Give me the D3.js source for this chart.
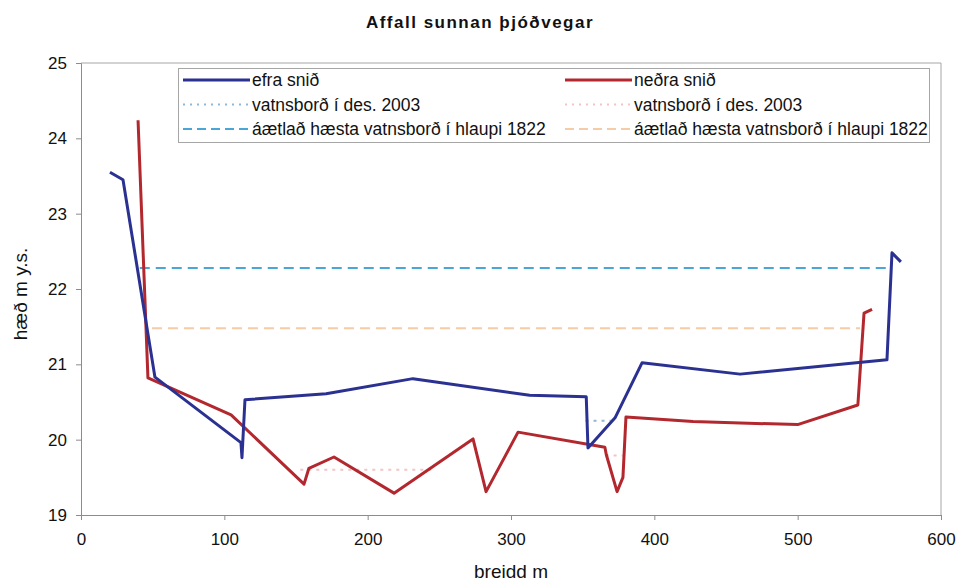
<!DOCTYPE html>
<html>
<head>
<meta charset="utf-8">
<script src="https://cdn.jsdelivr.net/npm/d3@7"></script>
<style>
  body { margin: 0; background: #fff; }
  text { font-family: "Liberation Sans", Arial, sans-serif; fill: #111; }
  .axis path, .axis line { stroke: #8c8c8c; }
</style>
</head>
<body>
<div id="chart"></div>
<script>
// efra snið (upper profile)
var efraBreidd = [20.2, 29.3, 51.6, 111.6, 112.3, 114.4, 171, 231.6, 313, 352.5, 353.7, 372.6, 391.4, 459.8, 562.3, 565.8, 572];
var efraHaed   = [23.55, 23.45, 20.83, 19.96, 19.76, 20.53, 20.61, 20.81, 20.59, 20.57, 19.89, 20.29, 21.02, 20.87, 21.06, 22.48, 22.36];

// neðra snið (lower profile)
var nedraBreidd = [39.8, 46.7, 104.7, 155.6, 159, 176.5, 218.4, 273.5, 282.6, 304.9, 365.5, 366.5, 374, 378.1, 380.2, 427, 500, 542, 546.3, 551.9];
var nedraHaed   = [24.24, 20.82, 20.33, 19.41, 19.62, 19.77, 19.29, 20.01, 19.31, 20.10, 19.90, 19.80, 19.31, 19.50, 20.30, 20.24, 20.20, 20.46, 21.68, 21.73];

// water levels
var efraDes2003   = {breidd: [352, 371], haed: 20.25};
var nedraDes2003  = {breidd: [153, 245], haed: 19.6};
var nedraDes2003b = {breidd: [366, 378], haed: 19.79};
var efraHlaup1822  = {breidd: [41, 562], haed: 22.28};
var nedraHlaup1822 = {breidd: [49.5, 543.5], haed: 21.48};

var xTicks = [0, 100, 200, 300, 400, 500, 600];
var yTicks = [19, 20, 21, 22, 23, 24, 25];

var legendLabels = ["efra snið", "vatnsborð í des. 2003", "áætlað hæsta vatnsborð í hlaupi 1822",
                    "neðra snið", "vatnsborð í des. 2003", "áætlað hæsta vatnsborð í hlaupi 1822"];

var width = 960, height = 584;
var mLeft = 81, mRight = 941, mTop = 63, mBottom = 515;

var blue = "#2b3191", red = "#b2282e";
var lightBlue = "#8fb8d8", skyBlue = "#4aa6d6", pink = "#f2c4c4", peach = "#f6cba8";

var svg = d3.select("#chart").append("svg")
  .attr("width", width)
  .attr("height", height);

var xScale = d3.scaleLinear().domain([0, 600]).range([mLeft, mRight]);
var yScale = d3.scaleLinear().domain([19, 25]).range([mBottom, mTop]);

/* plot frame (top + right) */
svg.append("path")
  .attr("d", `M${mLeft},${mTop}H${mRight}V${mBottom}`)
  .attr("fill", "none")
  .attr("stroke", "#a6a6a6");

/* axes */
var xAxis = d3.axisBottom(xScale).tickValues(xTicks).tickFormat(d3.format("d")).tickSize(5).tickPadding(13);
var yAxis = d3.axisLeft(yScale).tickValues(yTicks).tickFormat(d3.format("d")).tickSize(5).tickPadding(9);

svg.append("g")
  .attr("class", "x axis")
  .attr("transform", `translate(0, ${mBottom})`)
  .call(xAxis)
  .call(g => g.selectAll("text").attr("font-size", "17px").attr("fill", "#111"));

svg.append("g")
  .attr("class", "y axis")
  .attr("transform", `translate(${mLeft}, 0)`)
  .call(yAxis)
  .call(g => g.selectAll("text").attr("font-size", "17px").attr("fill", "#111"));

svg.append("text")
  .attr("x", (mLeft + mRight) / 2)
  .attr("y", 578)
  .attr("text-anchor", "middle")
  .attr("font-size", "19px")
  .text("breidd m");

svg.append("text")
  .attr("transform", "translate(27, 294) rotate(-90)")
  .attr("text-anchor", "middle")
  .attr("font-size", "19px")
  .text("hæð m y.s.");

svg.append("text")
  .attr("x", 480)
  .attr("y", 28)
  .attr("text-anchor", "middle")
  .attr("font-size", "17px")
  .attr("font-weight", "bold")
  .attr("letter-spacing", "1.5px")
  .text("Affall sunnan þjóðvegar");

/* lines */
var line = d3.line()
  .x(d => xScale(d[0]))
  .y(d => yScale(d[1]));

function levelLine(lvl, color, dash, w) {
  svg.append("path")
    .attr("d", line(lvl.breidd.map(b => [b, lvl.haed])))
    .attr("fill", "none")
    .attr("stroke", color)
    .attr("stroke-width", w)
    .attr("stroke-dasharray", dash);
}

levelLine(nedraHlaup1822, peach, "10,6", 2);
levelLine(efraHlaup1822, skyBlue, "10,6", 2);
levelLine(nedraDes2003, pink, "3,5", 2);
levelLine(nedraDes2003b, pink, "3,5", 2);
levelLine(efraDes2003, lightBlue, "3,5", 2);

svg.append("path")
  .attr("d", line(nedraBreidd.map((b, i) => [b, nedraHaed[i]])))
  .attr("fill", "none")
  .attr("stroke", red)
  .attr("stroke-width", 3)
  .attr("stroke-linejoin", "round");

svg.append("path")
  .attr("d", line(efraBreidd.map((b, i) => [b, efraHaed[i]])))
  .attr("fill", "none")
  .attr("stroke", blue)
  .attr("stroke-width", 3)
  .attr("stroke-linejoin", "round");

/* legend */
var legend = svg.append("g");
legend.append("rect")
  .attr("x", 178.5).attr("y", 68.5)
  .attr("width", 751).attr("height", 74)
  .attr("fill", "#fff")
  .attr("stroke", "#a6a6a6");

var legendStyles = [
  {color: blue, dash: null, w: 3},
  {color: lightBlue, dash: "2,5", w: 2},
  {color: skyBlue, dash: "9,5", w: 2},
  {color: red, dash: null, w: 3},
  {color: pink, dash: "2,5", w: 2},
  {color: peach, dash: "9,5", w: 2}
];

legendLabels.forEach(function(lbl, i) {
  var col = Math.floor(i / 3), row = i % 3;
  var x0 = col ? 565 : 183, y0 = 80 + row * 24.5;
  legend.append("line")
    .attr("x1", x0).attr("x2", x0 + 67)
    .attr("y1", y0).attr("y2", y0)
    .attr("stroke", legendStyles[i].color)
    .attr("stroke-width", legendStyles[i].w)
    .attr("stroke-dasharray", legendStyles[i].dash);
  legend.append("text")
    .attr("x", x0 + 69).attr("y", y0 + 6)
    .attr("font-size", "17.5px")
    .text(lbl);
});
</script>
</body>
</html>
